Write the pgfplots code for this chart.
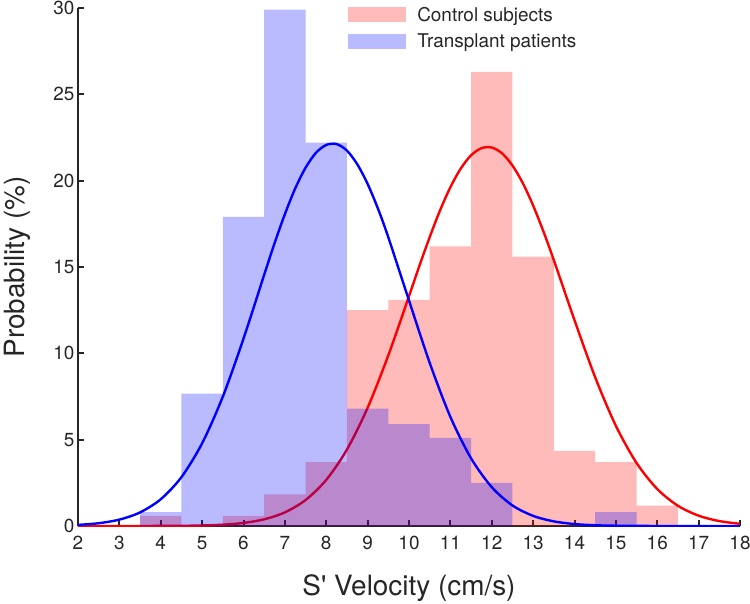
\documentclass[border=0pt]{standalone}
\usepackage{pgfplots}
\pgfplotsset{compat=1.18}
\usepackage{fontspec}
\setmainfont{TeX Gyre Heros}
\definecolor{axgray}{rgb}{0.15,0.15,0.15}
\pgfplotsset{patchlegend/.style={legend image code/.code={\fill[##1] (0bp,-7.5bp) rectangle (58bp,7.5bp);}}}
\begin{document}
\begin{tikzpicture}
\begin{axis}[
 name=ax,
 scale only axis, width=662bp, height=518bp,
 xmin=2, xmax=18, ymin=0, ymax=30,
 axis lines=left, axis line style={-, line width=2.6bp, draw=axgray},
 xtick={2,3,...,18}, ytick={0,5,...,30},
 tick style={line width=2bp, draw=axgray}, tick align=inside, major tick length=6bp,
 tick label style={font=\fontsize{19}{22}\selectfont, text=axgray},
 /pgf/number format/assume math mode=true,
 xticklabel style={yshift=-7bp},
 xlabel={S\textquotesingle{} Velocity (cm/s)}, ylabel={Probability (\%)},
 label style={font=\fontsize{28}{32}\selectfont, text=axgray},
 xlabel style={at={(axis description cs:0.5,-0.120)}, anchor=center},
 ylabel style={at={(axis description cs:-0.092,0.5)}, anchor=center},
 legend style={at={(axis description cs:0.408,1.006)}, anchor=north west, draw=none, fill=none,
   inner sep=0pt, row sep=7bp, font=\fontsize{19}{21}\selectfont, text=axgray,
   /tikz/every odd column/.append style={column sep=9bp}},
 legend cell align=left,
]
% Control subjects histogram
\addplot[ybar interval, fill=red, fill opacity=0.27, draw=none, patchlegend] coordinates {
 (3.5,0.58) (4.5,0) (5.5,0.58) (6.5,1.83) (7.5,3.7) (8.5,12.5) (9.5,13.1) (10.5,16.2)
 (11.5,26.3) (12.5,15.6) (13.5,4.35) (14.5,3.7) (15.5,1.18) (16.5,0)};
\addlegendentry{Control subjects}
% Control fit
\addplot[red, line width=2.4bp, smooth, forget plot] coordinates {
 (2,0) (3,0.0004) (4,0.004) (4.5,0.011) (5,0.030) (5.5,0.076) (6,0.177) (6.5,0.387) (7,0.789)
 (7.5,1.503) (8,2.671) (8.5,4.427) (9,6.848) (9.5,9.884) (10,13.31) (10.25,15.06) (10.5,16.73)
 (10.75,18.28) (11,19.62) (11.25,20.70) (11.5,21.47) (11.75,21.88) (12,21.92) (12.25,21.58)
 (12.5,20.88) (12.75,19.86) (13,18.56) (13.25,17.05) (13.5,15.40) (14,11.92) (14.5,8.61)
 (15,5.80) (15.5,3.65) (16,2.14) (16.5,1.17) (17,0.598) (17.5,0.285) (18,0.127)};
% Transplant patients histogram
\addplot[ybar interval, fill=blue, fill opacity=0.27, draw=none, patchlegend] coordinates {
 (3.5,0.81) (4.5,7.66) (5.5,17.9) (6.5,29.9) (7.5,22.2) (8.5,6.8) (9.5,5.9) (10.5,5.1)
 (11.5,2.5) (12.5,0) (13.5,0) (14.5,0.81) (15.5,0)};
\addlegendentry{Transplant patients}
% Transplant fit
\addplot[blue, line width=2.4bp, smooth, forget plot] coordinates {
 (2,0.065) (2.5,0.161) (3,0.37) (3.5,0.787) (4,1.55) (4.5,2.83) (5,4.79) (5.5,7.49)
 (6,10.85) (6.5,14.55) (6.75,16.37) (7,18.06) (7.25,19.55) (7.5,20.75) (7.75,21.61)
 (8,22.07) (8.25,22.12) (8.5,21.74) (8.75,20.95) (9,19.81) (9.25,18.38) (9.5,16.72)
 (10,13.06) (10.5,9.45) (11,6.32) (11.5,3.92) (12,2.25) (12.5,1.19) (13,0.587)
 (13.5,0.267) (14,0.113) (14.5,0.044) (15,0.016) (16,0.001) (17,0) (18,0)};
\end{axis}
\pgfresetboundingbox
\useasboundingbox ([xshift=-78bp,yshift=-78bp]ax.south west) rectangle ([xshift=10bp,yshift=8bp]ax.north east);
\end{tikzpicture}
\end{document}
